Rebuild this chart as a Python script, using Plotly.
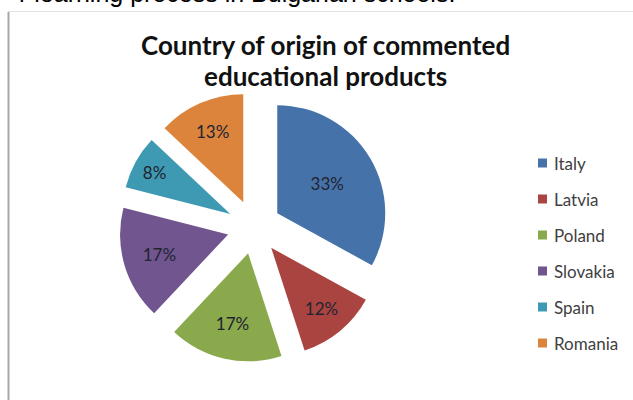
import plotly.graph_objects as go

# Share of commented educational products by country of origin (%)
countries = ["Italy", "Latvia", "Poland", "Slovakia", "Spain", "Romania"]
shares = [33, 12, 17, 17, 8, 13]
colors = ["#4672AA", "#AA4441", "#8AA84C", "#70558F", "#3E9AB2", "#DC843C"]
title_lines = ["Country of origin of commented", "educational products"]

W, H = 633, 400


def px_x(x):
    return x / W


def px_y(y):
    return 1 - y / H


fig = go.Figure()

fig.add_trace(go.Pie(
    labels=countries,
    values=shares,
    sort=False,
    direction="clockwise",
    rotation=0,
    pull=[0.25] * len(shares),
    marker=dict(colors=colors, line=dict(width=0)),
    texttemplate="%{value}%",
    textposition="inside",
    insidetextorientation="horizontal",
    textfont=dict(family="Lato", size=17, color="#1f2430"),
    domain=dict(x=[px_x(119), px_x(389)], y=[px_y(362), px_y(92)]),
    showlegend=False,
    hoverinfo="label+percent",
))

# Legend drawn as coloured squares with country names
shapes = []
annotations = []
leg_top, leg_step = 163, 36
for i, (name, col) in enumerate(zip(countries, colors)):
    cy = leg_top + i * leg_step
    shapes.append(dict(type="rect", xref="paper", yref="paper",
                       x0=px_x(538), x1=px_x(547), y0=px_y(cy + 4.5), y1=px_y(cy - 4.5),
                       fillcolor=col, line=dict(width=0)))
    annotations.append(dict(text=name, xref="paper", yref="paper",
                            x=px_x(552), y=px_y(cy), xanchor="left", yanchor="middle",
                            showarrow=False,
                            font=dict(family="Lato", size=17, color="#404040")))

# Chart frame: grey left edge and light top rule
shapes.append(dict(type="line", xref="paper", yref="paper",
                   x0=px_x(8.5), x1=px_x(8.5), y0=0, y1=px_y(12),
                   line=dict(color="#A8A8A8", width=2)))
shapes.append(dict(type="line", xref="paper", yref="paper",
                   x0=px_x(8), x1=1, y0=px_y(11.5), y1=px_y(11.5),
                   line=dict(color="#E2E2E2", width=1)))

# Title, one annotation per line
for line, cy in zip(title_lines, [45, 76]):
    annotations.append(dict(
        text="<b>" + line + "</b>",
        xref="paper", yref="paper", x=px_x(326), y=px_y(cy),
        xanchor="center", yanchor="middle", showarrow=False,
        font=dict(family="Lato", size=26, color="#111111")))

# Running text of the surrounding document above the chart
annotations.append(dict(
    text="r learning process in Bulgarian schools.",
    xref="paper", yref="paper", x=px_x(457), y=px_y(9),
    xanchor="right", yanchor="bottom", showarrow=False,
    font=dict(family="Liberation Sans", size=25, color="#000000")))

fig.update_layout(
    width=W, height=H,
    margin=dict(l=0, r=0, t=0, b=0),
    paper_bgcolor="white",
    plot_bgcolor="white",
    shapes=shapes,
    annotations=annotations,
)

fig.write_html("out.html")
